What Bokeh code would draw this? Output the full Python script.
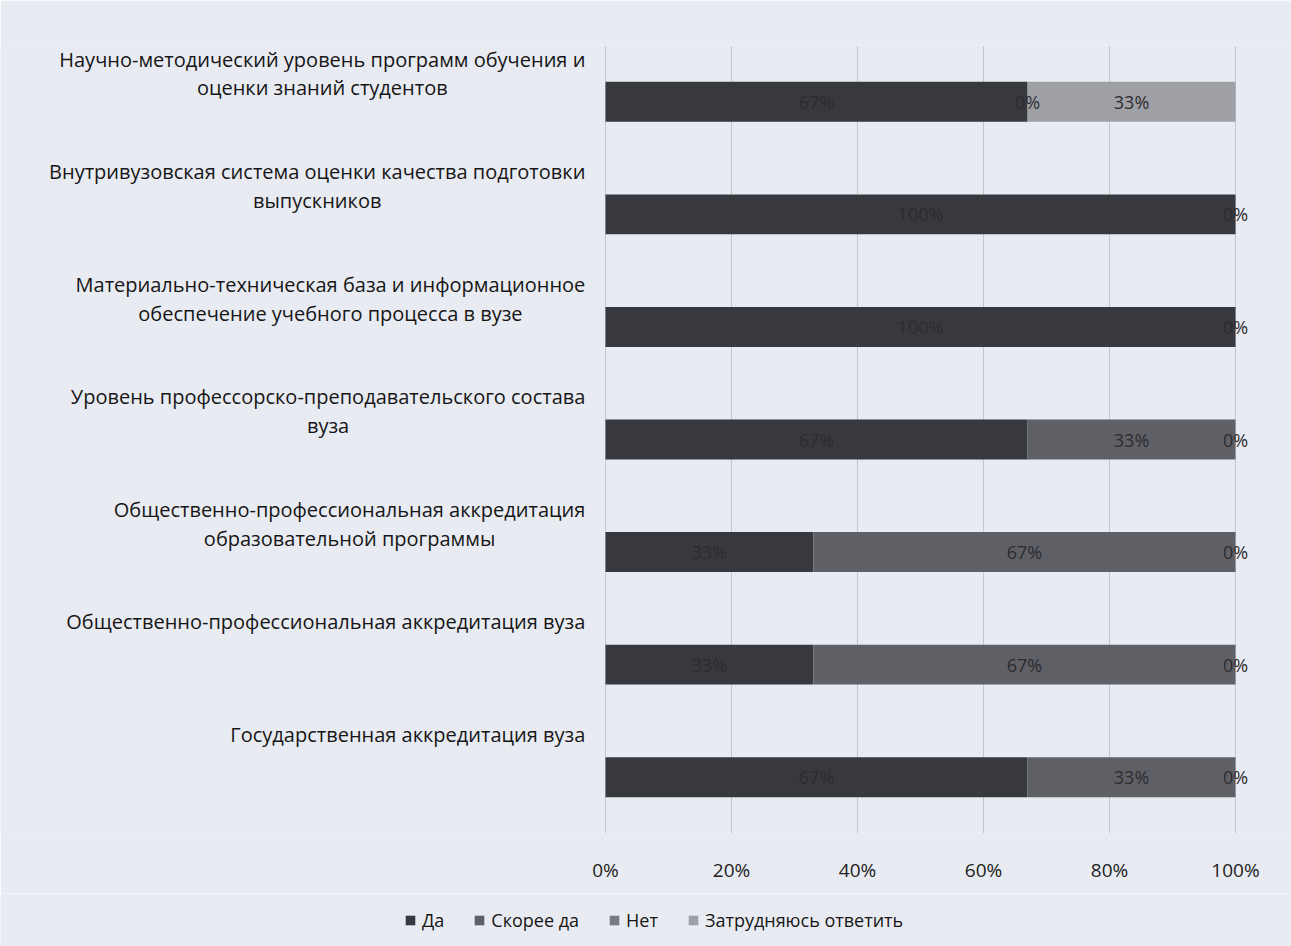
from bokeh.plotting import figure
from bokeh.layouts import column
from bokeh.models import (ColumnDataSource, Range1d, FixedTicker, NumeralTickFormatter,
                          Legend, LegendItem)
from bokeh.core.properties import value
from bokeh.embed import file_html
from bokeh.resources import INLINE

# ---- data (top to bottom) ----
categories = [
    "Научно-методический уровень программ обучения и\nоценки знаний студентов",
    "Внутривузовская система оценки качества подготовки\nвыпускников",
    "Материально-техническая база и информационное\nобеспечение учебного процесса в вузе",
    "Уровень профессорско-преподавательского состава\nвуза",
    "Общественно-профессиональная аккредитация\nобразовательной программы",
    "Общественно-профессиональная аккредитация вуза",
    "Государственная аккредитация вуза",
]
series_names = ["Да", "Скорее да", "Нет", "Затрудняюсь ответить"]
da = [67, 100, 100, 67, 33, 33, 67]
skoree_da = [0, None, None, 33, 67, 67, 33]
net = [None, 0, 0, 0, 0, 0, 0]
zatr = [33, None, None, None, None, None, None]
series_values = [da, skoree_da, net, zatr]
tick_values = [0, 0.2, 0.4, 0.6, 0.8, 1.0]

colors = ["#38393e", "#5f6066", "#7a7b81", "#9fa0a6"]
BG = "#e9ebf2"
FONT = "Open Sans"

n = len(categories)
ys = list(range(n))
data = {"y": ys}
keys = ["s0", "s1", "s2", "s3"]
for k, vals in zip(keys, series_values):
    data[k] = [(v if v is not None else 0) / 100 for v in vals]
src = ColumnDataSource(data)

p = figure(width=1291, height=893, output_backend="svg", toolbar_location=None,
           x_range=Range1d(-605 / 630, 686 / 630), y_range=Range1d(n - 0.5, -0.5),
           y_axis_location=None, min_border_left=0, min_border_right=0,
           min_border_top=45, min_border_bottom=60,
           background_fill_color=BG, border_fill_color=BG)
p.outline_line_color = None
p.ygrid.visible = False

rs = p.hbar_stack(keys, y="y", height=0.355, color=colors, source=src, line_color=None)

# axis
p.xaxis.ticker = FixedTicker(ticks=tick_values)
p.xaxis.formatter = NumeralTickFormatter(format="0%")
p.xaxis.axis_line_color = None
p.xaxis.major_tick_line_color = None
p.xaxis.minor_tick_line_color = None
p.xaxis.major_tick_out = 0
p.xaxis.major_label_standoff = 23
p.xaxis.major_label_text_font = FONT
p.xaxis.major_label_text_font_size = "19px"
p.xaxis.major_label_text_color = "#222222"
p.xgrid.ticker = FixedTicker(ticks=tick_values)
p.xgrid.grid_line_color = "#c4c6cd"
p.xgrid.grid_line_width = 1

# data labels
lx, ly, lt = [], [], []
for i in range(n):
    left = 0.0
    for vals in series_values:
        v = vals[i]
        if v is None:
            continue
        w = v / 100
        lx.append(left + w / 2)
        ly.append(i)
        lt.append(f"{v}%")
        left += w
p.text(x=lx, y=ly, text=lt, text_align="center", text_baseline="middle",
       text_font=value(FONT), text_font_size="18px", text_color="#2c2c30")

# category labels (above each bar, right aligned block, centered lines)
cat_src = ColumnDataSource(dict(x=[-0.032] * n, y=[y - 0.5 for y in ys], text=categories))
p.text(x="x", y="y", text="text", source=cat_src, anchor=value("top_right"),
       text_align="center", text_baseline="top", text_line_height=1.07,
       text_font=value(FONT), text_font_size="20px", text_color="#161616")

# legend strip below the chart (same series, drawn out of view, only legend shows)
lg = figure(width=1291, height=53, output_backend="svg", toolbar_location=None,
            x_range=Range1d(0, 1), y_range=Range1d(100, 101),
            x_axis_location=None, y_axis_location=None,
            min_border_left=0, min_border_right=0, min_border_top=0, min_border_bottom=0,
            background_fill_color=BG, border_fill_color=BG)
lg.outline_line_color = None
lg.grid.visible = False
swatches = lg.hbar_stack(keys, y="y", height=0.355, color=colors, source=src, line_color=None)

legend = Legend(items=[LegendItem(label=nm, renderers=[r]) for nm, r in zip(series_names, swatches)],
                orientation="horizontal", location=(404, 14),
                glyph_width=12, glyph_height=12, label_standoff=6, spacing=29,
                label_text_font=FONT, label_text_font_size="18px", label_text_color="#161616",
                background_fill_alpha=0, border_line_color=None, margin=0, padding=0)
lg.add_layout(legend, "center")

layout = column(p, lg, spacing=0)

html = file_html(layout, INLINE)
html = html.replace("<body>", '<body style="background:%s">' % BG, 1)
open("out.html", "w").write(html)
